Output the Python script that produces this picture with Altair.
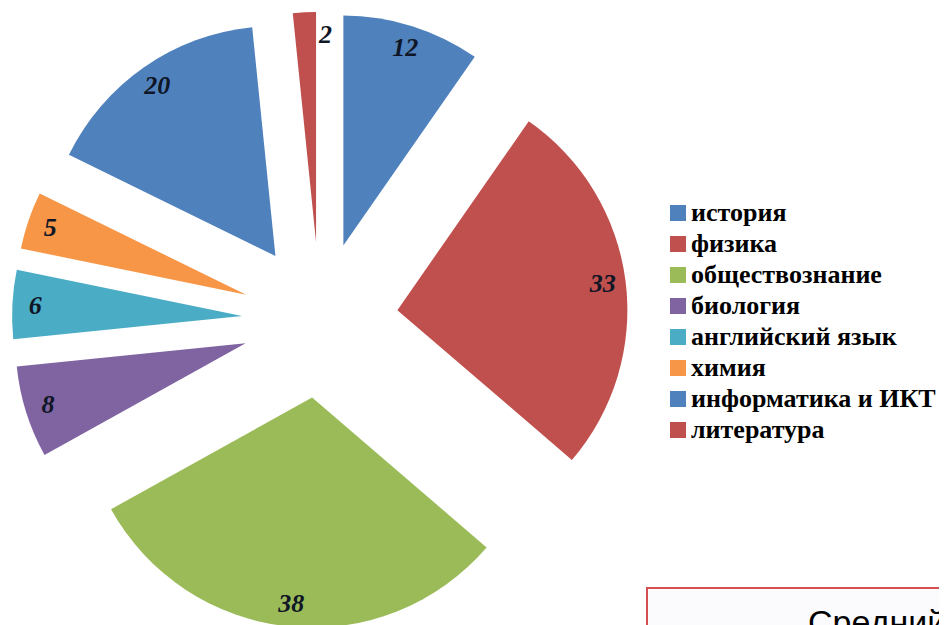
import altair as alt
import pandas as pd

# ---- data ----
subjects = ["история", "физика", "обществознание", "биология",
            "английский язык", "химия", "информатика и ИКТ", "литература"]
counts = [12, 33, 38, 8, 6, 5, 20, 2]
colors = ["#4F81BD", "#C0504D", "#9BBB59", "#8064A2",
          "#4BACC6", "#F79646", "#4F81BD", "#C0504D"]
box_words = ["Средний"]

# ---- layout ----
W, H = 931, 617
CX, CY = 312, 312
R = 230
EXPLODE = 78
LABEL_R = 285

df = pd.DataFrame({"subject": subjects, "count": counts,
                   "order": list(range(len(subjects)))})

xscale = alt.Scale(domain=[0, W], range=[0, W], nice=False, zero=False)
yscale = alt.Scale(domain=[0, H], range=[0, H], nice=False, zero=False)

base = (
    alt.Chart(df)
    .transform_window(cum="sum(count)", sort=[alt.SortField("order")])
    .transform_joinaggregate(total="sum(count)")
    .transform_calculate(
        start="datum.cum - datum.count",
        end="datum.cum",
        mid="PI * (2 * datum.cum - datum.count) / datum.total",
    )
    .transform_calculate(
        cx=f"{CX} + {EXPLODE} * sin(datum.mid)",
        cy=f"{CY} - {EXPLODE} * cos(datum.mid)",
        la="datum.count < 3 ? datum.mid + 0.07 : datum.mid",
    )
    .transform_calculate(
        lx=f"{CX} + {LABEL_R} * sin(datum.la)",
        ly=f"{CY} - {LABEL_R} * cos(datum.la)",
    )
)

arcs = base.mark_arc(radius=R).encode(
    x=alt.X("cx:Q", scale=xscale, axis=None, stack=False),
    y=alt.Y("cy:Q", scale=yscale, axis=None, stack=False),
    # theta from the cumulative end so the scale domain spans [0, total]
    theta=alt.Theta("end:Q", stack=False, scale=alt.Scale(nice=False, zero=True)),
    theta2="start:Q",
    color=alt.Color(
        "subject:N",
        sort=subjects,
        scale=alt.Scale(domain=subjects, range=colors),
        legend=alt.Legend(
            title=None, orient="none", legendX=657, legendY=192,
            symbolType="square", symbolSize=256, symbolStrokeWidth=0,
            labelFont="Liberation Serif", labelFontSize=26,
            labelFontWeight="bold", labelColor="#000000", labelLimit=500,
            labelOffset=0, rowPadding=5, padding=0,
        ),
    ),
)

labels = base.mark_text(
    font="Liberation Serif", fontSize=26, fontWeight="bold", fontStyle="italic",
    color="#0f1626", align="center", baseline="middle",
).encode(
    x=alt.X("lx:Q", scale=xscale, axis=None),
    y=alt.Y("ly:Q", scale=yscale, axis=None),
    text="count:Q",
)

box_df = pd.DataFrame({"word": box_words})
box = alt.Chart(box_df).mark_rect(
    fill="#fbfbfe", stroke="#d45050", strokeWidth=2
).encode(
    x=alt.value(639), x2=alt.value(990), y=alt.value(580), y2=alt.value(680)
)
box_text = alt.Chart(box_df).mark_text(
    font="Liberation Sans", fontSize=34, align="left", baseline="top", color="#000000"
).encode(x=alt.value(800), y=alt.value(599), text="word:N")

chart = (
    alt.layer(arcs, labels, box, box_text)
    .properties(width=W, height=H, padding=0,
                autosize=alt.AutoSizeParams(type="none"))
    .configure_view(strokeWidth=0)
    .configure_legend(labelFont="Liberation Serif", labelFontWeight="bold")
)

chart.save("out.html", embed_options={"renderer": "svg", "actions": False})
